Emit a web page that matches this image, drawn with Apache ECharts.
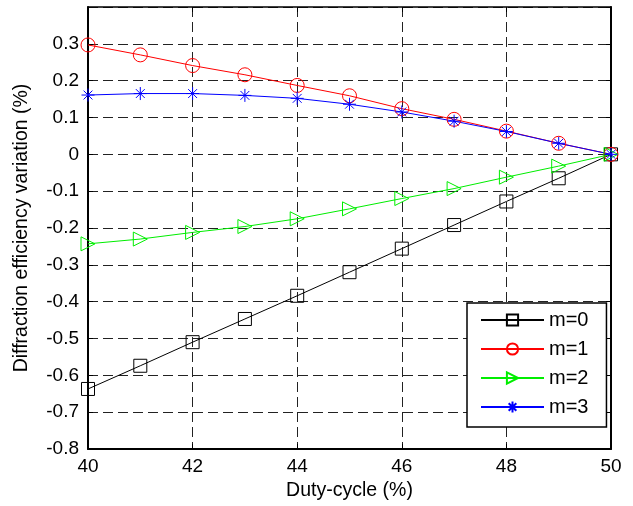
<!DOCTYPE html>
<html>
<head>
<meta charset="utf-8">
<script src="https://cdn.jsdelivr.net/npm/echarts@6/dist/echarts.min.js"></script>
<style>
  html, body { margin: 0; padding: 0; background: #fff; }
  #chart { width: 633px; height: 506px; }
</style>
</head>
<body>
<div id="chart"></div>
<script>
// duty-cycle values (%)
const dutyCycle = [40, 41, 42, 43, 44, 45, 46, 47, 48, 49, 50]
// diffraction efficiency variation (%) per order
const m0 = [-0.637, -0.574, -0.510, -0.447, -0.384, -0.320, -0.256, -0.192, -0.128, -0.065, 0]
const m1 = [0.297, 0.270, 0.241, 0.216, 0.187, 0.159, 0.124, 0.095, 0.063, 0.030, 0]
const m2 = [-0.243, -0.230, -0.212, -0.196, -0.175, -0.148, -0.120, -0.093, -0.062, -0.032, 0]
const m3 = [0.161, 0.165, 0.165, 0.160, 0.152, 0.136, 0.115, 0.090, 0.062, 0.030, 0]
const seriesNames = ["m=0", "m=1", "m=2", "m=3"]
const xTicks = { min: 40, max: 50, interval: 2 }
const yTicks = { min: -0.8, max: 0.4, interval: 0.1 }

const font = "'Liberation Sans', Arial, Helvetica, sans-serif"
const triRight = "path://M0,0 L10,5 L0,10 Z"
const asterisk = "path://M5,0 L5,10 M0,5 L10,5 M1.6,1.6 L8.4,8.4 M8.4,1.6 L1.6,8.4"

function pairs(ys) {
  return dutyCycle.map((x, i) => [x, ys[i]])
}

function makeSeries(name, ys, color, symbol, size) {
  return {
    name: name,
    type: "line",
    data: pairs(ys),
    symbol: symbol,
    symbolSize: size,
    symbolKeepAspect: true,
    showAllSymbol: true,
    lineStyle: { color: color, width: 1 },
    itemStyle: { color: "rgba(0,0,0,0)", borderColor: color, borderWidth: 1 },
    emphasis: { disabled: true },
    animation: false
  }
}

const gridLine = { show: true, lineStyle: { color: "#222", type: [10, 5], width: 1 } }
const axisLine = { show: true, onZero: false, lineStyle: { color: "#000", width: 2 } }
const tickIn = { show: true, inside: true, length: 5, lineStyle: { color: "#000", width: 1 } }

const chart = echarts.init(document.getElementById("chart"))
chart.setOption({
  backgroundColor: "#fff",
  animation: false,
  textStyle: { fontFamily: font },
  grid: { left: 88, right: 22, top: 7, bottom: 55 },
  legend: {
    data: seriesNames,
    orient: "vertical",
    left: 467,
    top: 303,
    padding: [7, 18, 10, 13],
    itemWidth: 63,
    itemHeight: 14,
    itemGap: 9,
    backgroundColor: "#fff",
    borderColor: "#000",
    borderWidth: 1.5,
    textStyle: { fontSize: 20, color: "#000", fontFamily: font }
  },
  xAxis: [
    {
      type: "value",
      min: xTicks.min,
      max: xTicks.max,
      interval: xTicks.interval,
      name: "Duty-cycle (%)",
      nameLocation: "middle",
      nameGap: 32,
      nameTextStyle: { fontSize: 19.5, color: "#000", fontFamily: font },
      axisLine: axisLine,
      axisTick: tickIn,
      axisLabel: { fontSize: 19, color: "#000", margin: 8 },
      splitLine: gridLine
    },
    {
      type: "value",
      position: "top",
      min: xTicks.min,
      max: xTicks.max,
      interval: xTicks.interval,
      axisLine: { show: true, onZero: false, lineStyle: { color: "#000", width: 1.5 } },
      axisTick: tickIn,
      axisLabel: { show: false },
      splitLine: { show: false }
    }
  ],
  yAxis: [
    {
      type: "value",
      min: yTicks.min,
      max: yTicks.max,
      interval: yTicks.interval,
      name: "Diffraction efficiency variation (%)",
      nameLocation: "middle",
      nameGap: 56,
      nameTextStyle: { fontSize: 19.5, color: "#000", fontFamily: font },
      axisLine: axisLine,
      axisTick: tickIn,
      axisLabel: {
        fontSize: 19,
        color: "#000",
        margin: 9,
        showMaxLabel: false,
        formatter: v => String(Number(v.toFixed(1)))
      },
      splitLine: gridLine
    },
    {
      type: "value",
      position: "right",
      min: yTicks.min,
      max: yTicks.max,
      interval: yTicks.interval,
      axisLine: { show: true, onZero: false, lineStyle: { color: "#000", width: 2 } },
      axisTick: tickIn,
      axisLabel: { show: false },
      splitLine: { show: false }
    }
  ],
  series: [
    makeSeries(seriesNames[0], m0, "#000000", "rect", 13),
    makeSeries(seriesNames[1], m1, "#ff0000", "circle", 14),
    makeSeries(seriesNames[2], m2, "#00ee00", triRight, 14),
    makeSeries(seriesNames[3], m3, "#0000ff", asterisk, 13)
  ]
})
</script>
</body>
</html>
